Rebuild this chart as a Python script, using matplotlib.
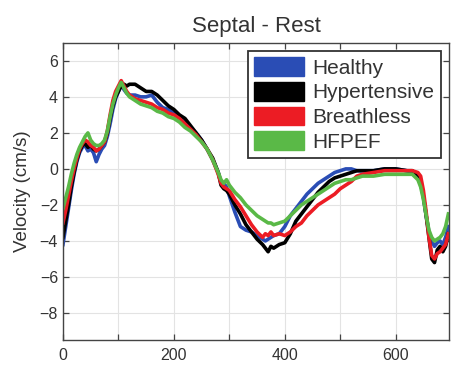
import matplotlib
matplotlib.use("Agg")
import matplotlib.pyplot as plt
from matplotlib.patches import Patch

plt.rcParams['font.family'] = ['Liberation Sans', 'DejaVu Sans']

x = [0, 5, 10, 15, 20, 25, 30, 35, 40, 45, 50, 55, 60, 65, 70, 75, 80, 85, 90, 95,
     100, 105, 110, 115, 120, 130, 140, 150, 160, 170, 180, 190, 200, 210, 220, 230,
     240, 250, 260, 270, 280, 285, 290, 295, 300, 310, 320, 330, 340, 350, 360, 365,
     370, 375, 380, 390, 400, 410, 420, 430, 440, 450, 460, 470, 480, 490, 500, 510,
     520, 530, 540, 560, 580, 600, 620, 630, 640, 645, 650, 655, 660, 665, 670, 675,
     680, 685, 690, 695]

healthy = [-4.2, -3.2, -2.2, -1.2, -0.3, 0.4, 0.9, 1.2, 1.3, 1.0, 1.1, 0.9, 0.4, 0.8, 1.1, 1.3, 1.8, 2.5, 3.3, 3.9,
           4.3, 4.7, 4.4, 4.2, 4.1, 4.1, 4.0, 4.0, 4.1, 3.7, 3.4, 3.3, 3.1, 2.9, 2.6, 2.3,
           2.0, 1.6, 1.1, 0.5, -0.2, -0.7, -0.8, -1.0, -1.5, -2.4, -3.2, -3.4, -3.5, -3.7, -3.9, -4.0,
           -3.9, -3.8, -3.7, -3.6, -3.2, -2.6, -2.2, -1.8, -1.4, -1.1, -0.8, -0.6, -0.4, -0.2, -0.1, 0.0,
           0.0, -0.1, -0.1, -0.1, 0.0, 0.0, -0.1, -0.2, -0.5, -0.8, -1.6, -2.6, -3.5, -4.0, -4.3, -4.1,
           -4.0, -4.2, -3.8, -3.2]

hypertensive = [-3.8, -2.9, -2.0, -1.0, -0.2, 0.5, 1.0, 1.3, 1.4, 1.2, 1.3, 1.1, 1.0, 1.1, 1.3, 1.5, 2.0, 2.8, 3.5, 4.0,
                4.3, 4.6, 4.7, 4.6, 4.7, 4.7, 4.5, 4.3, 4.3, 4.1, 3.8, 3.5, 3.3, 3.0, 2.8, 2.4,
                2.0, 1.6, 1.1, 0.6, -0.2, -0.9, -1.1, -1.2, -1.4, -2.0, -2.5, -3.1, -3.5, -3.9, -4.2, -4.4,
                -4.6, -4.3, -4.4, -4.2, -4.1, -3.6, -2.9, -2.5, -2.1, -1.7, -1.3, -1.0, -0.7, -0.5, -0.4, -0.3,
                -0.2, -0.1, -0.1, -0.1, 0.0, 0.0, -0.1, -0.1, -0.4, -0.8, -1.5, -2.6, -3.8, -5.0, -5.2, -4.5,
                -4.3, -4.6, -4.3, -3.6]

breathless = [-3.0, -2.3, -1.5, -0.7, 0.0, 0.6, 1.1, 1.4, 1.6, 1.5, 1.3, 1.2, 1.0, 1.1, 1.3, 1.5, 2.1, 3.0, 3.8, 4.3,
              4.6, 4.9, 4.6, 4.3, 4.1, 3.9, 3.8, 3.7, 3.6, 3.4, 3.3, 3.1, 3.0, 2.8, 2.5, 2.2,
              1.9, 1.5, 1.1, 0.5, -0.3, -0.8, -1.0, -1.1, -1.2, -1.7, -2.1, -2.6, -3.1, -3.5, -3.8, -3.6,
              -3.7, -3.5, -3.7, -3.6, -3.7, -3.5, -3.2, -3.0, -2.6, -2.3, -2.0, -1.8, -1.6, -1.4, -1.1, -0.9,
              -0.7, -0.4, -0.3, -0.2, -0.1, -0.1, -0.1, -0.1, -0.2, -0.4, -1.2, -2.4, -3.8, -4.8, -5.0, -4.7,
              -4.6, -4.4, -4.2, -3.6]

hfpef = [-2.2, -1.6, -1.0, -0.3, 0.3, 0.8, 1.2, 1.5, 1.8, 2.0, 1.6, 1.4, 1.3, 1.3, 1.4, 1.6, 2.1, 2.9, 3.6, 4.1,
         4.5, 4.8, 4.5, 4.2, 4.0, 3.8, 3.6, 3.5, 3.4, 3.2, 3.1, 2.9, 2.8, 2.6, 2.3, 2.1,
         1.8, 1.5, 1.1, 0.5, -0.2, -0.6, -0.8, -0.6, -0.9, -1.3, -1.6, -2.0, -2.3, -2.6, -2.8, -2.9,
         -3.0, -3.0, -3.1, -3.0, -2.9, -2.6, -2.3, -2.0, -1.8, -1.6, -1.4, -1.2, -1.0, -0.8, -0.7, -0.6,
         -0.6, -0.5, -0.4, -0.4, -0.3, -0.3, -0.3, -0.3, -0.6, -1.0, -1.7, -2.6, -3.4, -3.8, -4.0, -3.9,
         -3.8, -3.6, -3.2, -2.5]

labels = ["Healthy", "Hypertensive", "Breathless", "HFPEF"]
colors = ["#2a4db5", "#000000", "#ec1c24", "#5ab947"]
series = [healthy, hypertensive, breathless, hfpef]

xticks = [0, 100, 200, 300, 400, 500, 600]
xticklabels = ["0", "", "200", "", "400", "", "600"]
yticks = [-8, -6, -4, -2, 0, 2, 4, 6]

fig = plt.figure(figsize=(4.53, 3.66), dpi=100)
ax = fig.add_axes([0.139, 0.071, 0.852, 0.812])

for ys, c in zip(series, colors):
    ax.plot(x, ys, color=c, linewidth=2.6, solid_joinstyle='round')

ax.set_xlim(0, 696)
ax.set_ylim(-9.5, 7)
ax.set_xticks(xticks)
ax.set_xticklabels(xticklabels)
ax.set_yticks(yticks)
ax.grid(True, color="#e3e3e3", linewidth=0.8)
ax.set_axisbelow(True)
ax.tick_params(direction='in', length=4, width=0.9, colors='#444444',
               labelsize=11.5, labelcolor='#333333', top=True, right=True)
ax.tick_params(axis='x', pad=6)
for s in ax.spines.values():
    s.set_color('#444444')
    s.set_linewidth(1.0)

ax.set_title("Septal - Rest", fontsize=16, color='#333333', pad=8)
ax.set_ylabel("Velocity (cm/s)", fontsize=13.5, color='#333333', labelpad=6)

handles = [Patch(facecolor=c, edgecolor=c) for c in colors]
leg = ax.legend(handles, labels, loc='upper right', fontsize=15, frameon=True,
                fancybox=False, edgecolor='#333333', framealpha=1,
                handlelength=2.4, handleheight=1.0, handletextpad=0.4,
                labelspacing=0.2, borderpad=0.3, borderaxespad=0.4)
leg.get_frame().set_linewidth(1.3)
for t in leg.get_texts():
    t.set_color('#333333')

fig.savefig("out.png", dpi=100)
